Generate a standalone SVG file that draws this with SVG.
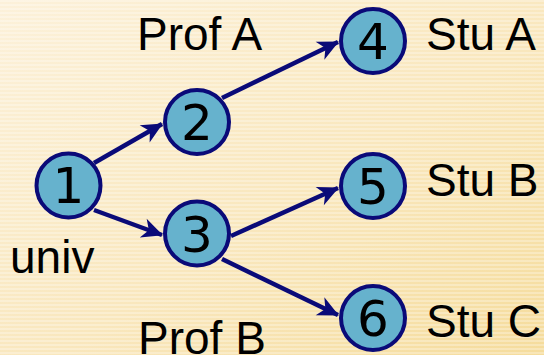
<svg xmlns="http://www.w3.org/2000/svg" width="544" height="355" viewBox="0 0 544 355">
  <defs>
    <linearGradient id="bg" x1="0" y1="0" x2="1" y2="1">
      <stop offset="0" stop-color="#fcf1da"/>
      <stop offset="0.55" stop-color="#f9e7bd"/>
      <stop offset="1" stop-color="#f5dc9c"/>
    </linearGradient>
    <pattern id="stripes" width="8" height="4" patternUnits="userSpaceOnUse">
      <rect x="0" y="0" width="8" height="2" fill="#ffffff" fill-opacity="0.28"/>
    </pattern>
    <marker id="head" markerUnits="userSpaceOnUse" markerWidth="26" markerHeight="22" viewBox="-21 -11 23 22" refX="0" refY="0" orient="auto">
      <path d="M1,0 L-20,-10 L-14,0 L-20,10 Z" fill="#0a0a78"/>
    </marker>
    <style>
      .node circle { fill: #66b2cd; stroke: #0a0a78; stroke-width: 4; }
      .node text { font-family: "DejaVu Sans", sans-serif; font-size: 50px; fill: #000; text-anchor: middle; }
      .edge { stroke: #0a0a78; stroke-width: 4.5; fill: none; marker-end: url(#head); }
      .label { font-family: "Liberation Sans", Arial, sans-serif; font-size: 46px; fill: #000; }
    </style>
  </defs>

  <!-- textured background -->
  <rect width="544" height="355" fill="url(#bg)"/>
  <rect width="544" height="355" fill="url(#stripes)"/>

  <!-- connectors -->
  <g id="edges">
    <line class="edge" x1="94" y1="163" x2="162" y2="124"/>
    <line class="edge" x1="94" y1="210" x2="162" y2="235"/>
    <line class="edge" x1="222" y1="98" x2="338" y2="42"/>
    <line class="edge" x1="231" y1="236" x2="338" y2="188"/>
    <line class="edge" x1="222" y1="259" x2="338" y2="315"/>
  </g>

  <!-- nodes -->
  <g id="n1" class="node"><circle cx="68.5" cy="185.5" r="32"/><text x="68.5" y="203">1</text></g>
  <g id="n2" class="node"><circle cx="197" cy="122" r="32"/><text x="197" y="140">2</text></g>
  <g id="n3" class="node"><circle cx="197" cy="233.5" r="32"/><text x="197" y="251.5">3</text></g>
  <g id="n4" class="node"><circle cx="373" cy="41" r="32"/><text x="373" y="59">4</text></g>
  <g id="n5" class="node"><circle cx="373" cy="186" r="32"/><text x="373" y="204">5</text></g>
  <g id="n6" class="node"><circle cx="373" cy="318" r="32"/><text x="373" y="336">6</text></g>

  <!-- labels -->
  <g id="labels">
    <text class="label" x="10" y="273">univ</text>
    <text class="label" x="137" y="50">Prof A</text>
    <text class="label" x="138" y="354">Prof B</text>
    <text class="label" x="426" y="50">Stu A</text>
    <text class="label" x="426" y="196">Stu B</text>
    <text class="label" x="426" y="337">Stu C</text>
  </g>
</svg>
